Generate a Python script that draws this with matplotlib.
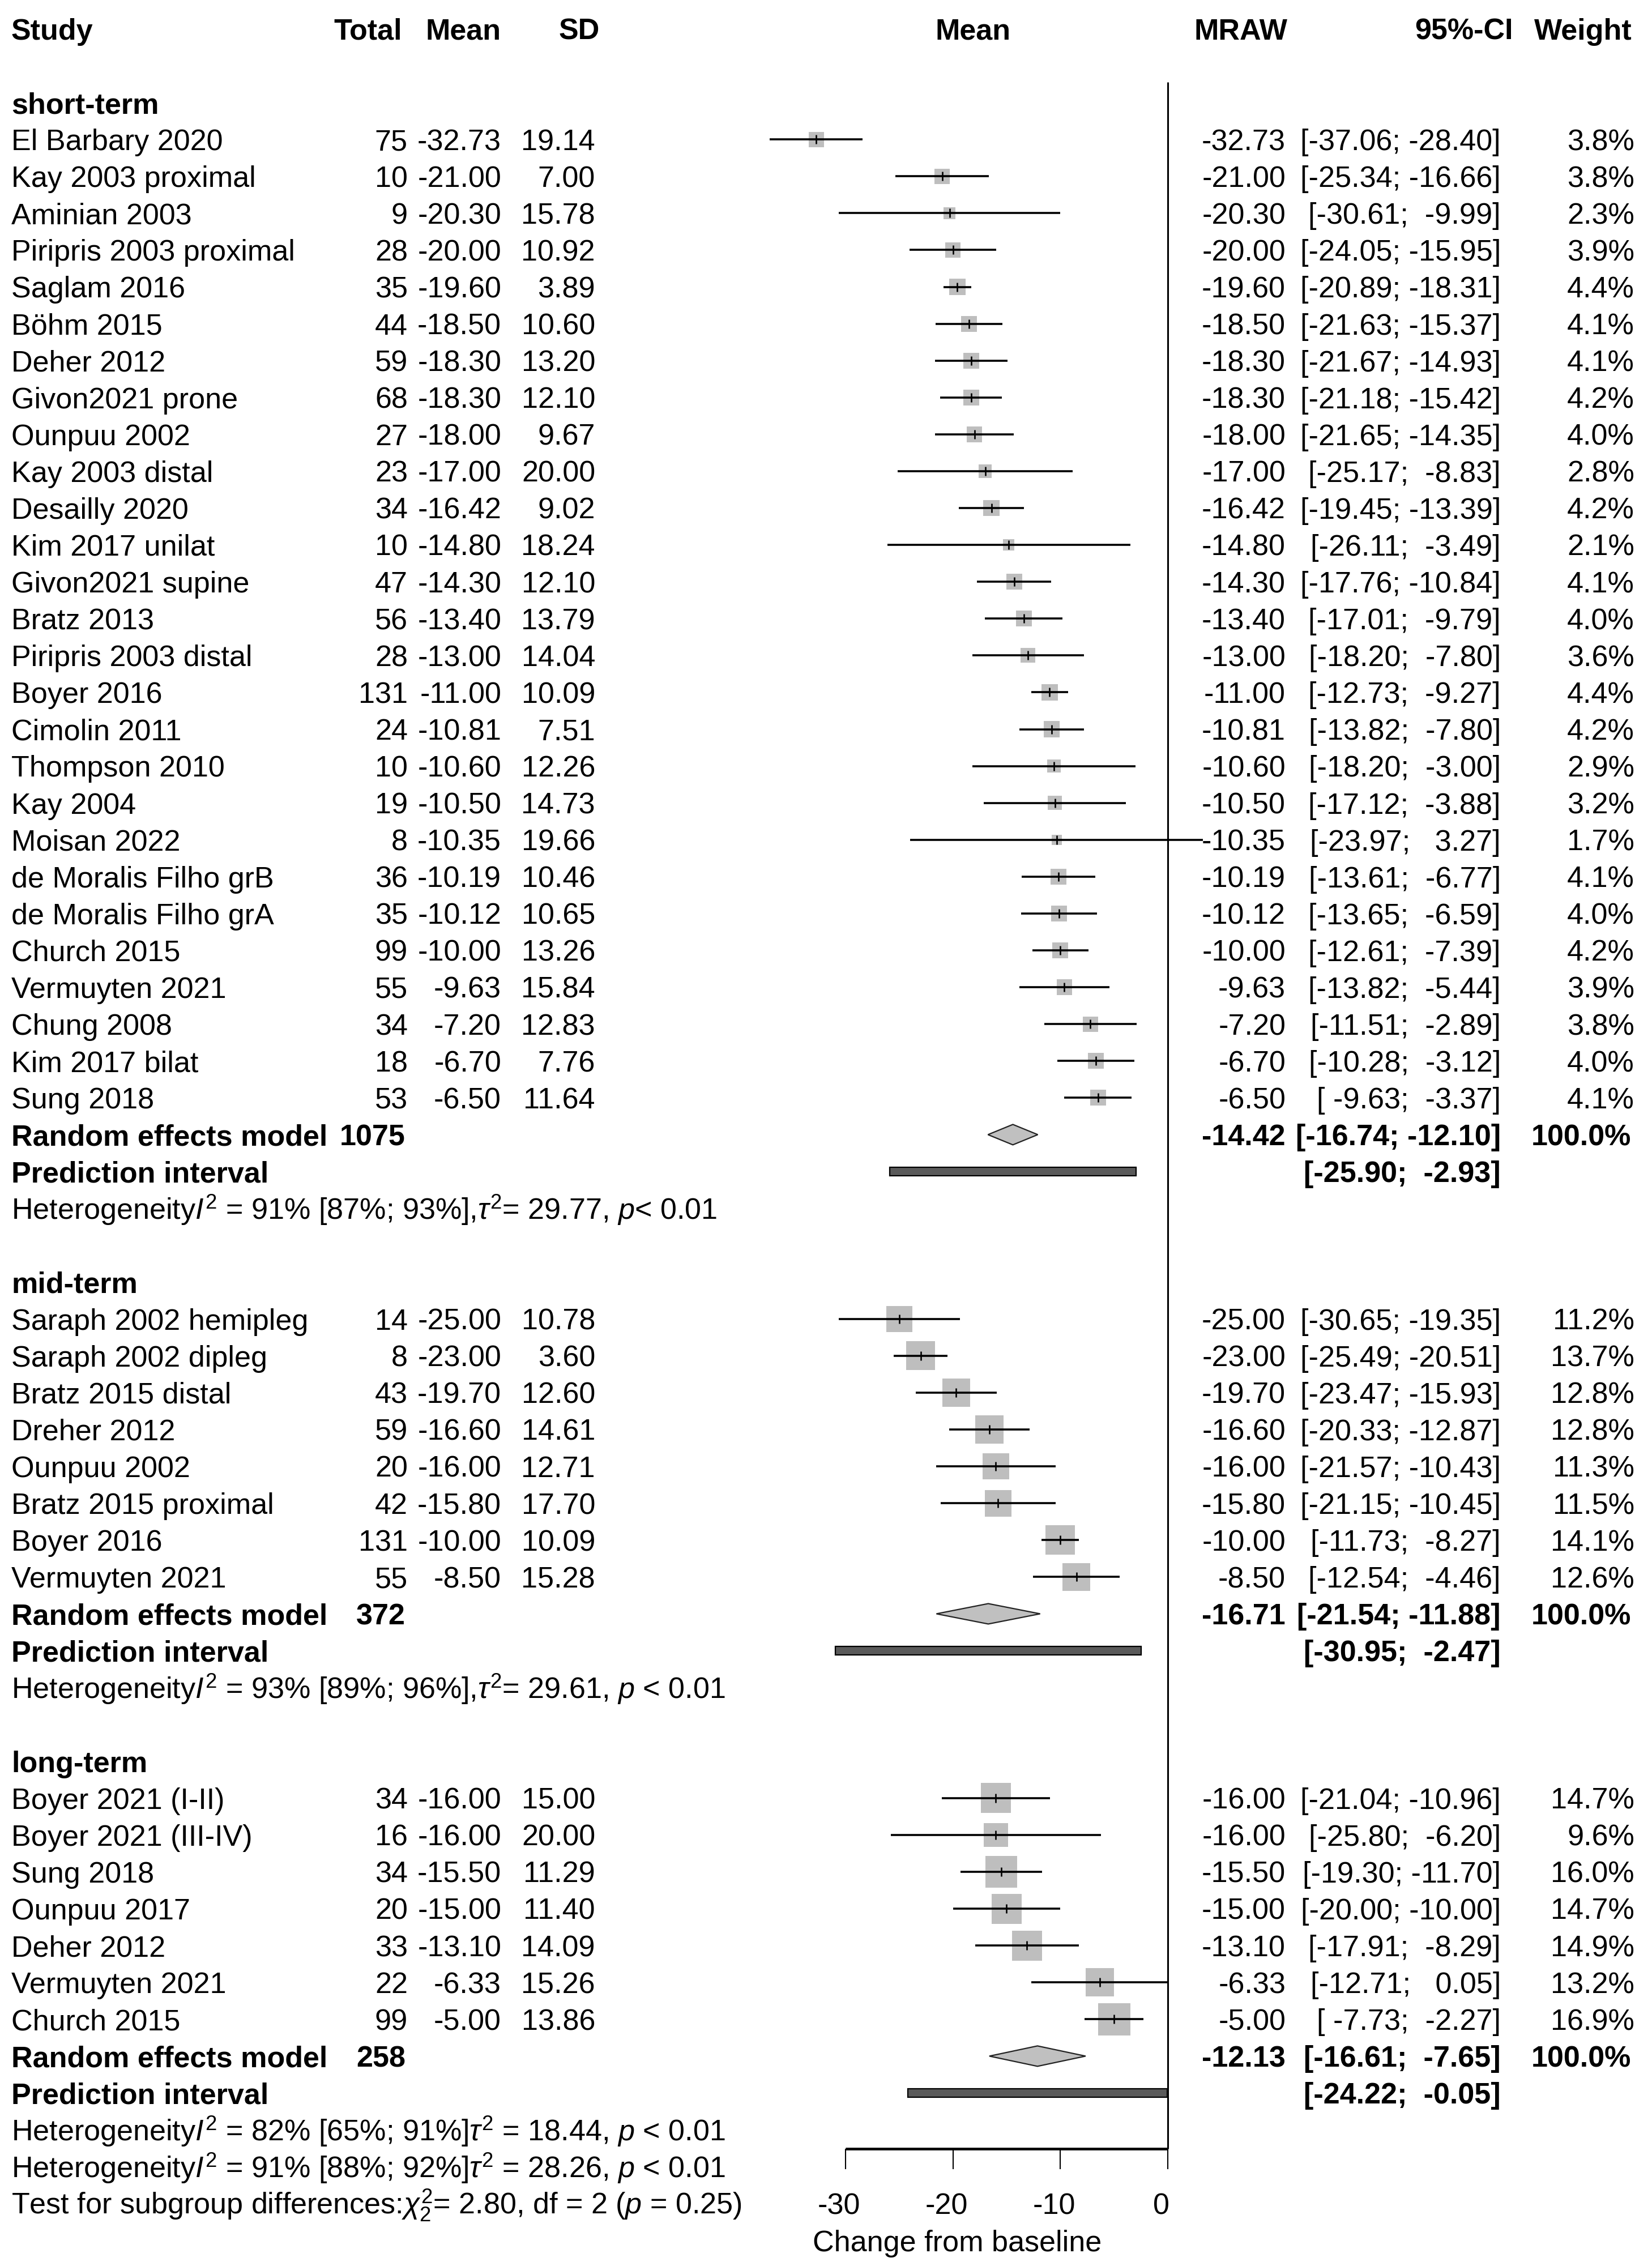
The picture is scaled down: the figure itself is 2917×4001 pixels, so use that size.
import matplotlib
matplotlib.use("Agg")
import matplotlib.pyplot as plt
import matplotlib.transforms as mtransforms
from matplotlib.patches import Rectangle
import numpy as np

plt.rcParams['font.family'] = ['Liberation Sans', 'DejaVu Sans']
plt.rcParams['mathtext.fontset'] = 'custom'
plt.rcParams['mathtext.rm'] = 'Liberation Sans'
plt.rcParams['mathtext.it'] = 'Liberation Sans:italic'
plt.rcParams['mathtext.bf'] = 'Liberation Sans:bold'

# ---- data ----
short_study = ['El Barbary 2020', 'Kay 2003 proximal', 'Aminian 2003', 'Piripris 2003 proximal',
               'Saglam 2016', 'Böhm 2015', 'Deher 2012', 'Givon2021 prone', 'Ounpuu 2002',
               'Kay 2003 distal', 'Desailly 2020', 'Kim 2017 unilat', 'Givon2021 supine',
               'Bratz 2013', 'Piripris 2003 distal', 'Boyer 2016', 'Cimolin 2011',
               'Thompson 2010', 'Kay 2004', 'Moisan 2022', 'de Moralis Filho grB',
               'de Moralis Filho grA', 'Church 2015', 'Vermuyten 2021', 'Chung 2008',
               'Kim 2017 bilat', 'Sung 2018']
short_n = [75, 10, 9, 28, 35, 44, 59, 68, 27, 23, 34, 10, 47, 56, 28, 131, 24, 10, 19, 8,
           36, 35, 99, 55, 34, 18, 53]
short_mean = [-32.73, -21.00, -20.30, -20.00, -19.60, -18.50, -18.30, -18.30, -18.00, -17.00,
              -16.42, -14.80, -14.30, -13.40, -13.00, -11.00, -10.81, -10.60, -10.50, -10.35,
              -10.19, -10.12, -10.00, -9.63, -7.20, -6.70, -6.50]
short_sd = [19.14, 7.00, 15.78, 10.92, 3.89, 10.60, 13.20, 12.10, 9.67, 20.00, 9.02, 18.24,
            12.10, 13.79, 14.04, 10.09, 7.51, 12.26, 14.73, 19.66, 10.46, 10.65, 13.26,
            15.84, 12.83, 7.76, 11.64]
short_lo = [-37.06, -25.34, -30.61, -24.05, -20.89, -21.63, -21.67, -21.18, -21.65, -25.17,
            -19.45, -26.11, -17.76, -17.01, -18.20, -12.73, -13.82, -18.20, -17.12, -23.97,
            -13.61, -13.65, -12.61, -13.82, -11.51, -10.28, -9.63]
short_hi = [-28.40, -16.66, -9.99, -15.95, -18.31, -15.37, -14.93, -15.42, -14.35, -8.83,
            -13.39, -3.49, -10.84, -9.79, -7.80, -9.27, -7.80, -3.00, -3.88, 3.27, -6.77,
            -6.59, -7.39, -5.44, -2.89, -3.12, -3.37]
short_w = [3.8, 3.8, 2.3, 3.9, 4.4, 4.1, 4.1, 4.2, 4.0, 2.8, 4.2, 2.1, 4.1, 4.0, 3.6, 4.4,
           4.2, 2.9, 3.2, 1.7, 4.1, 4.0, 4.2, 3.9, 3.8, 4.0, 4.1]

mid_study = ['Saraph 2002 hemipleg', 'Saraph 2002 dipleg', 'Bratz 2015 distal', 'Dreher 2012',
             'Ounpuu 2002', 'Bratz 2015 proximal', 'Boyer 2016', 'Vermuyten 2021']
mid_n = [14, 8, 43, 59, 20, 42, 131, 55]
mid_mean = [-25.00, -23.00, -19.70, -16.60, -16.00, -15.80, -10.00, -8.50]
mid_sd = [10.78, 3.60, 12.60, 14.61, 12.71, 17.70, 10.09, 15.28]
mid_lo = [-30.65, -25.49, -23.47, -20.33, -21.57, -21.15, -11.73, -12.54]
mid_hi = [-19.35, -20.51, -15.93, -12.87, -10.43, -10.45, -8.27, -4.46]
mid_w = [11.2, 13.7, 12.8, 12.8, 11.3, 11.5, 14.1, 12.6]

long_study = ['Boyer 2021 (I-II)', 'Boyer 2021 (III-IV)', 'Sung 2018', 'Ounpuu 2017',
              'Deher 2012', 'Vermuyten 2021', 'Church 2015']
long_n = [34, 16, 34, 20, 33, 22, 99]
long_mean = [-16.00, -16.00, -15.50, -15.00, -13.10, -6.33, -5.00]
long_sd = [15.00, 20.00, 11.29, 11.40, 14.09, 15.26, 13.86]
long_lo = [-21.04, -25.80, -19.30, -20.00, -17.91, -12.71, -7.73]
long_hi = [-10.96, -6.20, -11.70, -10.00, -8.29, 0.05, -2.27]
long_w = [14.7, 9.6, 16.0, 14.7, 14.9, 13.2, 16.9]

group_names = ['short-term', 'mid-term', 'long-term']
group_total = [1075, 372, 258]
re_est = [-14.42, -16.71, -12.13]
re_lo = [-16.74, -21.54, -16.61]
re_hi = [-12.10, -11.88, -7.65]
pi_lo = [-25.90, -30.95, -24.22]
pi_hi = [-2.93, -2.47, -0.05]
het_text = [r'Heterogeneity$I^2$ = 91% [87%; 93%],$\tau^2$= 29.77, $p$< 0.01',
            r'Heterogeneity$I^2$ = 93% [89%; 96%],$\tau^2$= 29.61, $p$ < 0.01',
            r'Heterogeneity$I^2$ = 82% [65%; 91%]$\tau^2$ = 18.44, $p$ < 0.01']
overall_het = r'Heterogeneity$I^2$ = 91% [88%; 92%]$\tau^2$ = 28.26, $p$ < 0.01'
subgroup_test = r'Test for subgroup differences:$\chi^2_2$= 2.80, df = 2 ($p$ = 0.25)'
xticks = [-30, -20, -10, 0]

groups = [
    (short_study, short_n, short_mean, short_sd, short_lo, short_hi, short_w),
    (mid_study, mid_n, mid_mean, mid_sd, mid_lo, mid_hi, mid_w),
    (long_study, long_n, long_mean, long_sd, long_lo, long_hi, long_w),
]

# ---- layout ----
W, H = 2917, 4001
ROW0, ROWH = 51, 65.08          # pixel centre of header row, row height
PXU = 18.97                     # pixels per unit on the x axis
X0 = 2062                       # pixel position of zero
FS = 37.5
BASE = 0.29                     # baseline offset (rows)

fig = plt.figure(figsize=(W / 100, H / 100), dpi=100)
ax = fig.add_axes([0, 0, 1, 1])
ax.set_xlim(-X0 / PXU, (W - X0) / PXU)
ax.set_ylim((H - ROW0) / ROWH, -ROW0 / ROWH)
ax.axis('off')
tr = mtransforms.blended_transform_factory(fig.transFigure, ax.transData)


def put(px, row, s, ha='left', bold=False):
    ax.text(px / W, row + BASE, s, transform=tr, ha=ha, va='baseline', fontsize=FS,
            fontweight='bold' if bold else 'normal', color='black')


def ci_str(lo, hi):
    return '[%6.2f; %6.2f]' % (lo, hi)


# header
put(20, 0, 'Study', bold=True)
put(710, 0, 'Total', ha='right', bold=True)
put(885, 0, 'Mean', ha='right', bold=True)
put(1059, 0, 'SD', ha='right', bold=True)
put(1718, 0, 'Mean', ha='center', bold=True)
put(2274, 0, 'MRAW', ha='right', bold=True)
put(2672, 0, '95%-CI', ha='right', bold=True)
put(2882, 0, 'Weight', ha='right', bold=True)

row = 2
for g, (study, n, mean, sd, lo, hi, w) in enumerate(groups):
    put(20, row, group_names[g], bold=True)
    row += 1
    rows = np.arange(row, row + len(study))
    side = 13.8 * np.sqrt(np.array(w)) * 0.72
    ax.scatter(mean, rows, marker='s', s=side ** 2, color='#BEBEBE', linewidths=0, zorder=2)
    ax.hlines(rows, lo, hi, color='black', lw=2.6, zorder=3)
    ax.plot(mean, rows, ls='none', marker='|', ms=11, mew=1.9, color='black', zorder=4)
    for i in range(len(study)):
        r = rows[i]
        put(20, r, study[i])
        put(720, r, '%d' % n[i], ha='right')
        put(885, r, '%.2f' % mean[i], ha='right')
        put(1051, r, '%.2f' % sd[i], ha='right')
        put(2270, r, '%.2f' % mean[i], ha='right')
        put(2650, r, ci_str(lo[i], hi[i]), ha='right')
        put(2886, r, '%.1f%%' % w[i], ha='right')
    row += len(study)
    # random effects diamond
    dh = 18 / ROWH
    ax.fill([re_lo[g], re_est[g], re_hi[g], re_est[g]], [row, row - dh, row, row + dh],
            facecolor='#C0C0C0', edgecolor='#222222', lw=1.6, zorder=3)
    put(20, row, 'Random effects model', bold=True)
    put(716, row, '%d' % group_total[g], ha='right', bold=True)
    put(2270, row, '%.2f' % re_est[g], ha='right', bold=True)
    put(2650, row, ci_str(re_lo[g], re_hi[g]), ha='right', bold=True)
    put(2880, row, '100.0%', ha='right', bold=True)
    row += 1
    # prediction interval
    ph = 15 / ROWH
    ax.add_patch(Rectangle((pi_lo[g], row - ph / 2), pi_hi[g] - pi_lo[g], ph,
                           facecolor='#5A5A5A', edgecolor='black', lw=1.6, zorder=3))
    put(20, row, 'Prediction interval', bold=True)
    put(2650, row, ci_str(pi_lo[g], pi_hi[g]), ha='right', bold=True)
    row += 1
    put(20, row, het_text[g])
    row += 2 if g < 2 else 1

put(20, row, overall_het)
put(20, row + 1, subgroup_test)

# reference line and x axis
axis_row = (3794 - ROW0) / ROWH
ax.vlines(0, 1.45, axis_row, color='black', lw=2.2, zorder=1)
ax.hlines(axis_row, xticks[0], xticks[-1], color='black', lw=3.4, zorder=5)
ax.vlines(xticks, axis_row, axis_row + 36 / ROWH, color='black', lw=1.5)
for t in xticks:
    ax.text(t - 0.6, row + 1 + BASE, '%d' % t, ha='center', va='baseline', fontsize=FS)
put(1690, row + 2, 'Change from baseline', ha='center')

fig.savefig('out.png', dpi=100, facecolor='white')
